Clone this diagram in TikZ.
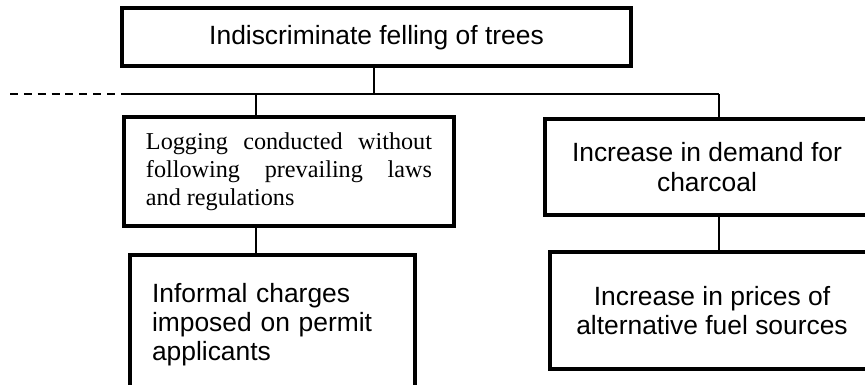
\documentclass[tikz,border=0pt]{standalone}
\usepackage{fontspec}
\setmainfont{Liberation Sans}
\newfontfamily\timesfont{Liberation Serif}
\hbadness=10000

\begin{document}
\begin{tikzpicture}[
    box/.style={rectangle, draw, line width=1.8pt, inner sep=0pt,
                align=center, font=\fontsize{12}{13.3}\selectfont},
    root/.style={box, minimum width=81.3mm, minimum height=9.2mm},
    branch/.style={box, minimum width=51.8mm},
    legal/.style={box, minimum width=52.7mm, minimum height=17.4mm,
                  text width=45.7mm, inner xsep=3.5mm, align=justify,
                  font=\timesfont\fontsize{11}{12.7}\selectfont},
    leaf/.style={box, minimum width=45.5mm, minimum height=22.2mm,
                 text width=38.5mm, inner xsep=3.5mm, align=left},
    link/.style={line width=0.6pt}
]
  \useasboundingbox (-60.15mm, 5.94mm) rectangle (78.04mm, -55.56mm);
  \clip (-60.15mm, 5.94mm) rectangle (78.04mm, -55.56mm);

  \node[root] (felling) at (0, 0) {Indiscriminate felling of trees};

  % Left branch
  \node[legal] (logging) at (-13.98mm, -21.45mm)
    {Logging conducted without\linebreak following prevailing laws\linebreak and regulations};
  \node[leaf] (charges) at (-16.61mm, -45.90mm)
    {Informal charges\\imposed on permit\\applicants};

  % Right branch
  \node[branch, minimum height=15.3mm] (demand) at (52.80mm, -20.74mm)
    {Increase in demand for\\charcoal};
  \node[branch, minimum height=18.7mm] (prices) at (53.60mm, -43.66mm)
    {Increase in prices of\\alternative fuel sources};

  % Bus line under the root
  \coordinate (dashL) at (-58.55mm, -9.07mm);
  \coordinate (busL) at (-40.50mm, -9.07mm);
  \coordinate (tapL) at (-19.25mm, -9.07mm);
  \coordinate (busM) at (-0.40mm, -9.07mm);
  \coordinate (busR) at (54.71mm, -9.07mm);

  \draw[link] (busM |- felling.south) -- (busM);
  \draw[link] (busL) -- (busR);
  \draw[link, dash pattern=on 3.6pt off 2.7pt] (dashL) -- (busL);

  % Edges down the left branch
  \draw[link] (tapL) -- (tapL |- logging.north);
  \draw[link] (tapL |- logging.south) -- (tapL |- charges.north);

  % Edges down the right branch
  \draw[link] (busR) -- (busR |- demand.north);
  \draw[link] (busR |- demand.south) -- (busR |- prices.north);
\end{tikzpicture}
\end{document}
